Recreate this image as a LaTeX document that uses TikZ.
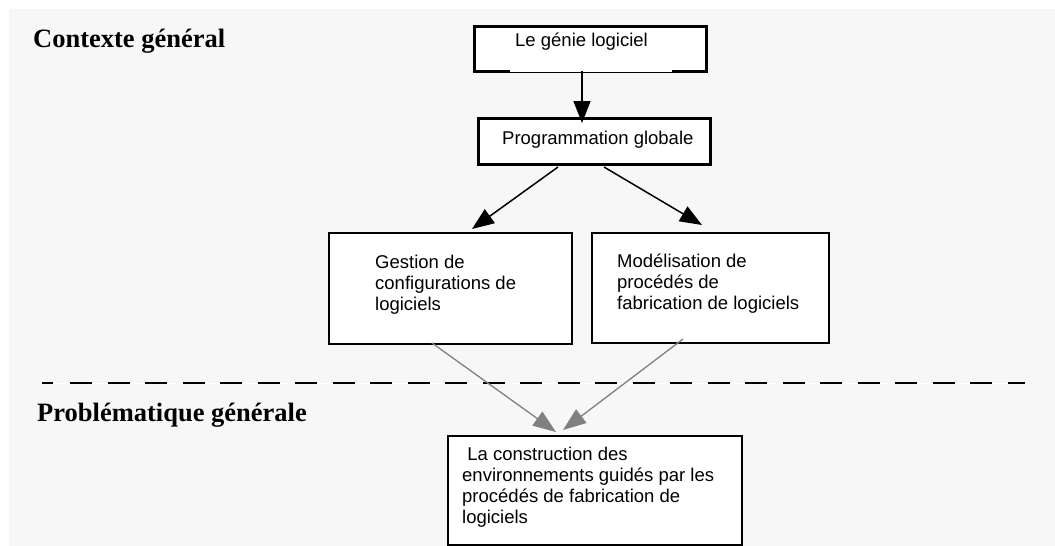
\documentclass[tikz,border=0pt]{standalone}
\usepackage{fontspec}
\setmainfont{Liberation Serif}
\newfontfamily\boxfont{Liberation Sans}
\usetikzlibrary{arrows.meta}
\definecolor{bggray}{HTML}{F7F7F7}
\definecolor{arrgray}{HTML}{808080}
\tikzset{
  boxthick/.style={draw=black, fill=white, line width=3pt, inner sep=0pt, rectangle},
  boxmid/.style={draw=black, fill=white, line width=2pt, inner sep=0pt, rectangle},
  boxthin/.style={draw=black, fill=white, line width=1.5pt, inner sep=0pt, rectangle},
  boxtext/.style={anchor=base west, inner sep=0pt, align=left, font=\boxfont\fontsize{18.5}{21}\selectfont},
  titletext/.style={anchor=base west, inner sep=0pt, font=\bfseries\fontsize{26.5}{30}\selectfont},
  blackarrow/.style={draw=black, line width=1.5pt, -{Triangle[length=22pt,width=17pt]}},
  grayarrow/.style={draw=arrgray, line width=1.3pt, -{Triangle[length=23pt,width=17pt]}, arrgray},
}
\begin{document}
\begin{tikzpicture}[x=1pt,y=-1pt]
\useasboundingbox (0,0) rectangle (1055,546);
\fill[white] (0,0) rectangle (1055,546);
\fill[bggray] (9,9) rectangle (1055,546);

% titles
\node[titletext] (t1) at (33,47) {Contexte général};
\node[titletext] (t2) at (37,421) {Problématique générale};

% dashed separator
\coordinate (dl) at (42,383);
\coordinate (dr) at (1025,383);
\draw[white, line width=1pt] (dl) -- (dr);
\draw[black, line width=2pt, dash pattern=on 11pt off 17pt on 22pt off 15.5pt on 22pt off 15.5pt on 22pt off 15.5pt on 22pt off 15.5pt on 22pt off 15.5pt on 22pt off 15.5pt on 22pt off 15.5pt on 22pt off 15.5pt on 22pt off 15.5pt on 22pt off 15.5pt on 22pt off 15.5pt on 22pt off 15.5pt on 22pt off 15.5pt on 22pt off 15.5pt on 22pt off 15.5pt on 22pt off 15.5pt on 22pt off 15.5pt on 22pt off 15.5pt on 22pt off 15.5pt on 22pt off 15.5pt on 22pt off 15.5pt on 22pt off 15.5pt on 22pt off 15.5pt on 22pt off 15.5pt on 22pt off 15.5pt on 22pt off 15.5pt] (dl) -- (dr);

% boxes
\node[boxthick, minimum width=232pt, minimum height=45pt] (b1) at (590,48.5) {};
\draw[white, line width=1.5pt] (510,71) -- (672,71);
\node[boxthick, minimum width=232pt, minimum height=46pt] (b2) at (594,141) {};
\node[boxmid, minimum width=243pt, minimum height=111pt] (b3) at (450.5,288.5) {};
\node[boxmid, minimum width=237pt, minimum height=110pt] (b4) at (710.5,288) {};
\node[boxthin, minimum width=294pt, minimum height=109pt] (b5) at (595,490.5) {};

% texts (base = baseline of the last line)
\node[boxtext] (x1) at (515,46) {Le génie logiciel};
\node[boxtext] (x2) at (502,144) {Programmation globale};
\node[boxtext] (x3) at (375,310) {Gestion de\\configurations de\\logiciels};
\node[boxtext] (x4) at (617,309) {Modélisation de\\procédés de\\fabrication de logiciels};
\node[boxtext] (x5) at (462,523) {\ La construction des\\environnements guidés par les\\procédés de fabrication de\\logiciels};

% connectors
\coordinate (a1s) at (582,71);
\coordinate (a1e) at (582,123);
\draw[blackarrow] (a1s) -- (a1e);
\coordinate (a2s) at (558,167);
\coordinate (a2e) at (472,229);
\draw[blackarrow] (a2s) -- (a2e);
\coordinate (a3s) at (604,167);
\coordinate (a3e) at (702,225);
\draw[blackarrow] (a3s) -- (a3e);
\coordinate (g1s) at (432,343);
\coordinate (g1e) at (556,432);
\draw[grayarrow] (g1s) -- (g1e);
\coordinate (g2s) at (683,339);
\coordinate (g2e) at (563,430);
\draw[grayarrow] (g2s) -- (g2e);
\end{tikzpicture}
\end{document}
